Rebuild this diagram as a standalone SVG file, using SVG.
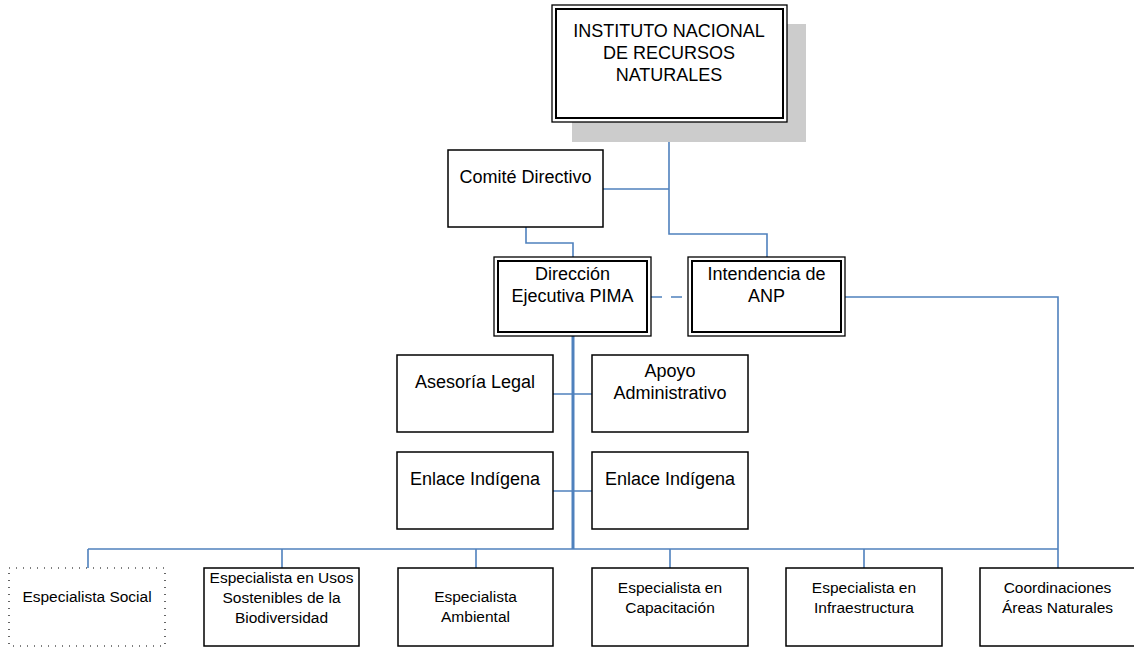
<svg xmlns="http://www.w3.org/2000/svg" width="1134" height="648" viewBox="0 0 1134 648">
<style>
  text { font-family: "Liberation Sans", Arial, sans-serif; fill: #000; text-anchor: middle; }
  .t18 { font-size: 18px; }
  .t15 { font-size: 15.5px; }
  .box { fill: #fff; stroke: #000; stroke-width: 1.5; }
  .out { fill: #fff; stroke: #000; stroke-width: 1.3; }
  .in { fill: none; stroke: #000; stroke-width: 2; }
  .dot { fill: #fff; stroke: #000; stroke-width: 1.2; stroke-dasharray: 1 6; }
  .c { fill: none; stroke: #4F81BD; stroke-width: 1.6; }
  .cm { fill: none; stroke: #4F81BD; stroke-width: 3; }
  .cd { fill: none; stroke: #4F81BD; stroke-width: 1.6; stroke-dasharray: 11 9; }
</style>
<rect width="1134" height="648" fill="#fff"/>
<g id="connectors">
  <path class="c" d="M669 122 V234 H767 V257"/>
  <path class="c" d="M603 189 H669"/>
  <path class="c" d="M526 227 V243 H573 V257"/>
  <path class="cd" d="M651 297 H688"/>
  <path class="c" d="M845 297 H1058 V568"/>
  <path class="cm" d="M573 336 V549"/>
  <path class="c" d="M553 394 H592"/>
  <path class="c" d="M553 491 H592"/>
  <path class="c" d="M88 549 H1058"/>
  <path class="c" d="M88 549 V568 M282 549 V568 M476 549 V568 M670 549 V568 M864 549 V568"/>
</g>
<g id="instituto">
  <rect x="572" y="24" width="234" height="118" fill="#cccccc"/>
  <rect class="out" x="552" y="5" width="235" height="117"/>
  <rect class="in" x="556" y="9" width="227" height="109"/>
  <text class="t18" x="669" y="37">INSTITUTO NACIONAL</text>
  <text class="t18" x="669" y="59">DE RECURSOS</text>
  <text class="t18" x="669" y="81">NATURALES</text>
</g>
<g id="comite">
  <rect class="box" x="448" y="150" width="155" height="77"/>
  <text class="t18" x="525.5" y="183">Comité Directivo</text>
</g>
<g id="direccion">
  <rect class="out" x="494" y="257" width="157" height="79"/>
  <rect class="in" x="498" y="261" width="149" height="71"/>
  <text class="t18" x="572.5" y="280">Dirección</text>
  <text class="t18" x="572.5" y="302">Ejecutiva PIMA</text>
</g>
<g id="intendencia">
  <rect class="out" x="688" y="257" width="157" height="79"/>
  <rect class="in" x="692" y="261" width="149" height="71"/>
  <text class="t18" x="766.5" y="280">Intendencia de</text>
  <text class="t18" x="766.5" y="302">ANP</text>
</g>
<g id="asesoria">
  <rect class="box" x="397" y="355" width="156" height="77"/>
  <text class="t18" x="475" y="388">Asesoría Legal</text>
</g>
<g id="apoyo">
  <rect class="box" x="592" y="355" width="156" height="77"/>
  <text class="t18" x="670" y="377">Apoyo</text>
  <text class="t18" x="670" y="399">Administrativo</text>
</g>
<g id="enlace1">
  <rect class="box" x="397" y="452" width="156" height="77"/>
  <text class="t18" x="475" y="485">Enlace Indígena</text>
</g>
<g id="enlace2">
  <rect class="box" x="592" y="452" width="156" height="77"/>
  <text class="t18" x="670" y="485">Enlace Indígena</text>
</g>
<g id="social">
  <rect class="dot" x="9" y="568" width="156" height="78"/>
  <text class="t15" x="87" y="602">Especialista Social</text>
</g>
<g id="usos">
  <rect class="box" x="204" y="568" width="155" height="78"/>
  <text class="t15" x="281.5" y="583">Especialista en Usos</text>
  <text class="t15" x="281.5" y="603">Sostenibles de la</text>
  <text class="t15" x="281.5" y="623">Biodiversidad</text>
</g>
<g id="ambiental">
  <rect class="box" x="398" y="568" width="155" height="78"/>
  <text class="t15" x="475.5" y="602">Especialista</text>
  <text class="t15" x="475.5" y="622">Ambiental</text>
</g>
<g id="capacitacion">
  <rect class="box" x="592" y="568" width="156" height="78"/>
  <text class="t15" x="670" y="593">Especialista en</text>
  <text class="t15" x="670" y="613">Capacitación</text>
</g>
<g id="infraestructura">
  <rect class="box" x="786" y="568" width="156" height="78"/>
  <text class="t15" x="864" y="593">Especialista en</text>
  <text class="t15" x="864" y="613">Infraestructura</text>
</g>
<g id="coordinaciones">
  <rect class="box" x="980" y="568" width="156" height="78"/>
  <text class="t15" x="1057.5" y="593">Coordinaciones</text>
  <text class="t15" x="1057.5" y="613">Áreas Naturales</text>
</g>
</svg>
